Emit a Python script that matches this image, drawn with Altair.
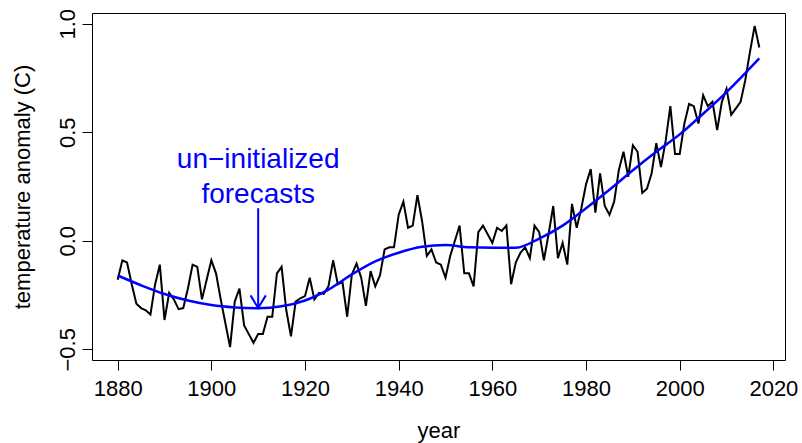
import altair as alt
import pandas as pd

# ---------------- data ----------------
years = list(range(1880, 2018))
anomaly = [
    -0.18, -0.09, -0.10, -0.20, -0.29, -0.31, -0.32, -0.34, -0.20, -0.11,
    -0.365, -0.24, -0.27, -0.315, -0.31, -0.22, -0.11, -0.12, -0.27, -0.18,
    -0.09, -0.15, -0.27, -0.38, -0.49, -0.28, -0.22, -0.39, -0.43, -0.47,
    -0.43, -0.43, -0.35, -0.35, -0.15, -0.12, -0.32, -0.44, -0.28, -0.265,
    -0.255, -0.17, -0.27, -0.24, -0.245, -0.21, -0.09, -0.20, -0.19, -0.35,
    -0.155, -0.105, -0.17, -0.30, -0.14, -0.21, -0.16, -0.04, -0.03, -0.03,
    0.12, 0.18, 0.06, 0.07, 0.21, 0.09, -0.07, -0.04, -0.10, -0.11,
    -0.17, -0.07, 0.00, 0.07, -0.15, -0.15, -0.21, 0.04, 0.07, 0.03,
    -0.01, 0.06, 0.045, 0.07, -0.20, -0.10, -0.055, -0.03, -0.08, 0.07,
    0.04, -0.09, 0.03, 0.16, -0.08, -0.01, -0.11, 0.17, 0.06, 0.15,
    0.26, 0.33, 0.13, 0.31, 0.16, 0.12, 0.18, 0.325, 0.41, 0.295,
    0.44, 0.41, 0.22, 0.24, 0.31, 0.45, 0.34, 0.46, 0.62, 0.40,
    0.40, 0.54, 0.63, 0.62, 0.54, 0.67, 0.62, 0.64, 0.51, 0.64,
    0.70, 0.58, 0.61, 0.64, 0.74, 0.87, 0.99, 0.89,
]

smooth_years = [1880, 1885, 1890, 1895, 1900, 1905, 1910, 1915, 1920, 1925,
                1930, 1935, 1940, 1945, 1950, 1955, 1960, 1965, 1970, 1975,
                1980, 1985, 1990, 1995, 2000, 2005, 2010, 2015, 2017]
smooth_vals = [-0.16, -0.205, -0.245, -0.275, -0.296, -0.307, -0.311, -0.302, -0.275, -0.225,
               -0.155, -0.095, -0.055, -0.028, -0.02, -0.03, -0.032, -0.032, 0.01, 0.07,
               0.15, 0.235, 0.325, 0.41, 0.49, 0.585, 0.685, 0.795, 0.84]

x_ticks = [1880, 1900, 1920, 1940, 1960, 1980, 2000, 2020]
y_ticks = [-0.5, 0.0, 0.5, 1.0]

note_lines = ["un\u2212initialized", "forecasts"]
note_x = [1910, 1910]
note_y = [0.333, 0.175]

arrow_x = [1910]
arrow_top = [0.15]
arrow_tip = [-0.31]

x_domain = [1874.52, 2022.48]
y_domain = [-0.5492, 1.0492]

FONT = "Liberation Sans"
BLUE = "#0000ff"

# ---------------- frames ----------------
obs = pd.DataFrame({"year": years, "anom": anomaly})
smo = pd.DataFrame({"year": smooth_years, "anom": smooth_vals})
note = pd.DataFrame({"year": note_x, "anom": note_y, "txt": note_lines})
arrow = pd.DataFrame({"year": arrow_x, "top": arrow_top, "tip": arrow_tip})

xs = alt.Scale(domain=x_domain, nice=False, zero=False)
ys = alt.Scale(domain=y_domain, nice=False, zero=False)

xaxis = alt.Axis(
    values=x_ticks, format="d", title="year", grid=False, domain=False,
    tickSize=10, tickColor="black", tickWidth=1,
    labelFont=FONT, labelFontSize=22, labelColor="black", labelPadding=8,
    labelBaseline="top", labelFlush=False, labelOverlap=False,
    titleFont=FONT, titleFontSize=22, titleFontWeight="normal", titleColor="black",
    titleY=77, titleBaseline="alphabetic",
)
yaxis = alt.Axis(
    values=y_ticks, format=".1f", title="temperature anomaly (C)", grid=False, domain=False,
    tickSize=10, tickColor="black", tickWidth=1,
    labelFont=FONT, labelFontSize=22, labelColor="black", labelPadding=8,
    labelAngle=-90, labelAlign="center", labelBaseline="alphabetic",
    labelFlush=False, labelOverlap=False,
    titleFont=FONT, titleFontSize=22, titleFontWeight="normal", titleColor="black",
    titleAngle=-90, titleX=-63, titleY=173.5, titleAlign="center", titleBaseline="alphabetic",
)

base_x = alt.X("year:Q", scale=xs, axis=xaxis)
base_y = alt.Y("anom:Q", scale=ys, axis=yaxis)

obs_line = alt.Chart(obs).mark_line(color="black", strokeWidth=2).encode(x=base_x, y=base_y)

smooth_line = alt.Chart(smo).mark_line(
    color=BLUE, strokeWidth=2.5, interpolate="monotone"
).encode(x=alt.X("year:Q", scale=xs), y=alt.Y("anom:Q", scale=ys))

shaft = alt.Chart(arrow).mark_rule(color=BLUE, strokeWidth=2).encode(
    x=alt.X("year:Q", scale=xs), y=alt.Y("top:Q", scale=ys), y2="tip:Q"
)

head = alt.Chart(arrow).mark_point(
    shape="M-0.6,-1L0,0L0.6,-1", filled=False, color=BLUE, strokeWidth=2,
    size=645, opacity=1,
).encode(x=alt.X("year:Q", scale=xs), y=alt.Y("tip:Q", scale=ys))

label = alt.Chart(note).mark_text(
    color=BLUE, font=FONT, fontSize=28, align="center", baseline="alphabetic"
).encode(x=alt.X("year:Q", scale=xs), y=alt.Y("anom:Q", scale=ys), text="txt:N")

chart = alt.layer(obs_line, smooth_line, shaft, head, label).properties(
    width=693, height=347,
    autosize=alt.AutoSizeParams(type="none"),
    padding={"left": 92, "top": 13, "right": 17, "bottom": 83},
    background="white",
).configure_view(stroke="black", strokeWidth=1)

chart.save("out.html", embed_options={"renderer": "svg", "actions": False})
